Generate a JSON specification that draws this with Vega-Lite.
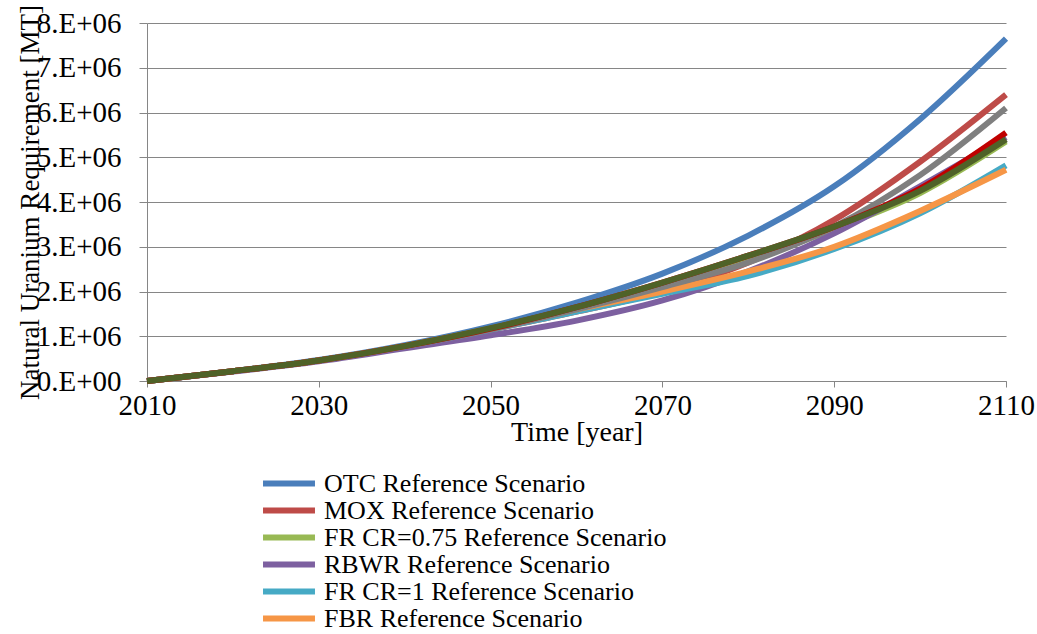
{
  "$schema": "https://vega.github.io/schema/vega-lite/v6.json",
  "width": 859,
  "height": 358,
  "autosize": "none",
  "padding": {"left": 147, "top": 23, "right": 31, "bottom": 253},
  "background": "white",
  "config": {"font": "'Liberation Serif', 'Times New Roman', serif", "view": {"stroke": null},
    "axis": {"labelFont": "'Liberation Serif', 'Times New Roman', serif", "titleFont": "'Liberation Serif', 'Times New Roman', serif"},
    "legend": {"labelFont": "'Liberation Serif', 'Times New Roman', serif"}},
  "data": {"values": [
    {"s":"OTC Reference Scenario","year":2010,"req":0},{"s":"OTC Reference Scenario","year":2020,"req":220000},{"s":"OTC Reference Scenario","year":2030,"req":470000},{"s":"OTC Reference Scenario","year":2040,"req":800000},{"s":"OTC Reference Scenario","year":2050,"req":1220000},{"s":"OTC Reference Scenario","year":2060,"req":1750000},{"s":"OTC Reference Scenario","year":2070,"req":2400000},{"s":"OTC Reference Scenario","year":2080,"req":3250000},{"s":"OTC Reference Scenario","year":2090,"req":4350000},{"s":"OTC Reference Scenario","year":2100,"req":5850000},{"s":"OTC Reference Scenario","year":2110,"req":7650000},
    {"s":"MOX Reference Scenario","year":2010,"req":0},{"s":"MOX Reference Scenario","year":2020,"req":220000},{"s":"MOX Reference Scenario","year":2030,"req":460000},{"s":"MOX Reference Scenario","year":2040,"req":780000},{"s":"MOX Reference Scenario","year":2050,"req":1150000},{"s":"MOX Reference Scenario","year":2060,"req":1550000},{"s":"MOX Reference Scenario","year":2070,"req":2000000},{"s":"MOX Reference Scenario","year":2080,"req":2650000},{"s":"MOX Reference Scenario","year":2090,"req":3600000},{"s":"MOX Reference Scenario","year":2100,"req":4900000},{"s":"MOX Reference Scenario","year":2110,"req":6400000},
    {"s":"FR CR=0.75 Reference Scenario","year":2010,"req":0},{"s":"FR CR=0.75 Reference Scenario","year":2020,"req":220000},{"s":"FR CR=0.75 Reference Scenario","year":2030,"req":460000},{"s":"FR CR=0.75 Reference Scenario","year":2040,"req":780000},{"s":"FR CR=0.75 Reference Scenario","year":2050,"req":1150000},{"s":"FR CR=0.75 Reference Scenario","year":2060,"req":1600000},{"s":"FR CR=0.75 Reference Scenario","year":2070,"req":2100000},{"s":"FR CR=0.75 Reference Scenario","year":2080,"req":2700000},{"s":"FR CR=0.75 Reference Scenario","year":2090,"req":3400000},{"s":"FR CR=0.75 Reference Scenario","year":2100,"req":4200000},{"s":"FR CR=0.75 Reference Scenario","year":2110,"req":5350000},
    {"s":"RBWR Reference Scenario","year":2010,"req":0},{"s":"RBWR Reference Scenario","year":2020,"req":210000},{"s":"RBWR Reference Scenario","year":2030,"req":440000},{"s":"RBWR Reference Scenario","year":2040,"req":730000},{"s":"RBWR Reference Scenario","year":2050,"req":1020000},{"s":"RBWR Reference Scenario","year":2060,"req":1350000},{"s":"RBWR Reference Scenario","year":2070,"req":1800000},{"s":"RBWR Reference Scenario","year":2080,"req":2450000},{"s":"RBWR Reference Scenario","year":2090,"req":3300000},{"s":"RBWR Reference Scenario","year":2100,"req":4350000},{"s":"RBWR Reference Scenario","year":2110,"req":5450000},
    {"s":"FR CR=1 Reference Scenario","year":2010,"req":0},{"s":"FR CR=1 Reference Scenario","year":2020,"req":220000},{"s":"FR CR=1 Reference Scenario","year":2030,"req":460000},{"s":"FR CR=1 Reference Scenario","year":2040,"req":780000},{"s":"FR CR=1 Reference Scenario","year":2050,"req":1150000},{"s":"FR CR=1 Reference Scenario","year":2060,"req":1550000},{"s":"FR CR=1 Reference Scenario","year":2070,"req":1950000},{"s":"FR CR=1 Reference Scenario","year":2080,"req":2350000},{"s":"FR CR=1 Reference Scenario","year":2090,"req":2950000},{"s":"FR CR=1 Reference Scenario","year":2100,"req":3750000},{"s":"FR CR=1 Reference Scenario","year":2110,"req":4820000},
    {"s":"FBR Reference Scenario","year":2010,"req":0},{"s":"FBR Reference Scenario","year":2020,"req":220000},{"s":"FBR Reference Scenario","year":2030,"req":460000},{"s":"FBR Reference Scenario","year":2040,"req":780000},{"s":"FBR Reference Scenario","year":2050,"req":1170000},{"s":"FBR Reference Scenario","year":2060,"req":1600000},{"s":"FBR Reference Scenario","year":2070,"req":2000000},{"s":"FBR Reference Scenario","year":2080,"req":2450000},{"s":"FBR Reference Scenario","year":2090,"req":3000000},{"s":"FBR Reference Scenario","year":2100,"req":3800000},{"s":"FBR Reference Scenario","year":2110,"req":4720000},
    {"s":"Series 7","year":2010,"req":0},{"s":"Series 7","year":2020,"req":220000},{"s":"Series 7","year":2030,"req":460000},{"s":"Series 7","year":2040,"req":780000},{"s":"Series 7","year":2050,"req":1150000},{"s":"Series 7","year":2060,"req":1600000},{"s":"Series 7","year":2070,"req":2100000},{"s":"Series 7","year":2080,"req":2650000},{"s":"Series 7","year":2090,"req":3450000},{"s":"Series 7","year":2100,"req":4600000},{"s":"Series 7","year":2110,"req":6100000},
    {"s":"Series 8","year":2010,"req":0},{"s":"Series 8","year":2020,"req":220000},{"s":"Series 8","year":2030,"req":460000},{"s":"Series 8","year":2040,"req":780000},{"s":"Series 8","year":2050,"req":1170000},{"s":"Series 8","year":2060,"req":1650000},{"s":"Series 8","year":2070,"req":2200000},{"s":"Series 8","year":2080,"req":2800000},{"s":"Series 8","year":2090,"req":3450000},{"s":"Series 8","year":2100,"req":4300000},{"s":"Series 8","year":2110,"req":5550000},
    {"s":"Series 9","year":2010,"req":0},{"s":"Series 9","year":2020,"req":220000},{"s":"Series 9","year":2030,"req":460000},{"s":"Series 9","year":2040,"req":780000},{"s":"Series 9","year":2050,"req":1180000},{"s":"Series 9","year":2060,"req":1650000},{"s":"Series 9","year":2070,"req":2200000},{"s":"Series 9","year":2080,"req":2800000},{"s":"Series 9","year":2090,"req":3450000},{"s":"Series 9","year":2100,"req":4250000},{"s":"Series 9","year":2110,"req":5400000}
  ]},
  "mark": {"type": "line", "strokeWidth": 6, "interpolate": "monotone"},
  "encoding": {
    "x": {"field": "year", "type": "quantitative", "scale": {"domain": [2010, 2110], "nice": false},
      "axis": {"values": [2010,2030,2050,2070,2090,2110], "format": "d", "grid": false, "title": "Time [year]",
        "labelFontSize": 29, "titleFontSize": 28, "titleFontWeight": "normal", "labelColor": "black", "titleColor": "black",
        "domainColor": "#868686", "tickColor": "#868686", "tickSize": 6, "labelPadding": 4, "titlePadding": -2,
        "labelOverlap": false, "labelFlush": false}},
    "y": {"field": "req", "type": "quantitative", "scale": {"domain": [0, 8000000], "nice": false},
      "axis": {"values": [0,1000000,2000000,3000000,4000000,5000000,6000000,7000000,8000000],
        "labelExpr": "datum.value == 0 ? '0.E+00' : format(datum.value/1000000,'.0f') + '.E+06'",
        "title": "Natural Uranium Requirement  [MT]", "labelFontSize": 29, "titleFontSize": 27, "titleFontWeight": "normal",
        "labelColor": "black", "titleColor": "black", "gridColor": "#868686", "domainColor": "#868686", "tickColor": "#868686",
        "tickSize": 8, "titlePadding": -8, "labelPadding": 18, "labelOverlap": false, "labelFlush": false}},
    "color": {"field": "s", "type": "nominal",
      "scale": {"domain": ["OTC Reference Scenario","MOX Reference Scenario","FR CR=0.75 Reference Scenario","RBWR Reference Scenario","FR CR=1 Reference Scenario","FBR Reference Scenario","Series 7","Series 8","Series 9"],
        "range": ["#4a7ebb","#be4b48","#98b954","#7d60a0","#46aac5","#f69646","#7f7f7f","#c00000","#4f6228"]},
      "legend": {"values": ["OTC Reference Scenario","MOX Reference Scenario","FR CR=0.75 Reference Scenario","RBWR Reference Scenario","FR CR=1 Reference Scenario","FBR Reference Scenario"],
        "orient": "none", "legendX": 113, "legendY": 447, "title": null, "symbolType": "stroke", "symbolSize": 2700,
        "symbolStrokeWidth": 6, "labelFontSize": 26, "labelColor": "black", "rowPadding": 0, "clipHeight": 27, "labelOffset": 6, "labelLimit": 0}}
  }
}
